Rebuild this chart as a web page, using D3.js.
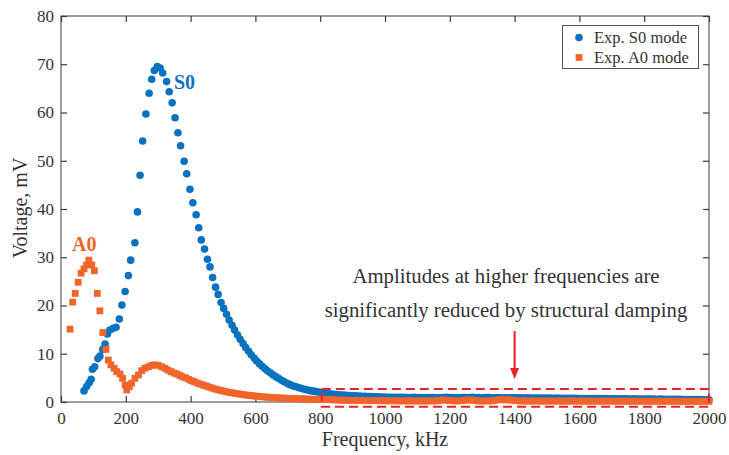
<!DOCTYPE html>
<html><head><meta charset="utf-8">
<script src="https://cdn.jsdelivr.net/npm/d3@7"></script>
<style>html,body{margin:0;padding:0;background:#fff;}svg{display:block;}</style>
</head><body>
<svg id="chart" width="729" height="455"></svg>
<script>
// ---- Data ----
const xTicks = [0,200,400,600,800,1000,1200,1400,1600,1800,2000];
const yTicks = [0,10,20,30,40,50,60,70,80];

const s0HeadFreq = [71,79,87,93,97,104,114,120,129,136,143,151,161,170,180,188,198,208,215,228,
  236,244,252,262,272,280,288,297,306,314,326,334,343,352,361,369,380,388,398,407,
  417,425,433,443,452,460,468,477,485,494,502,511,519,528,536,545,553,562,570,579,
  587,596,604,613,621,630,638,647,655,664,672,681,689,698,706,715,723,732,740,749,
  757,766,774,783,791,800,808,817,825,834];
const s0HeadVolt = [2.3,3.2,4.0,4.7,6.8,7.3,9.0,9.5,10.9,12.0,14.1,14.9,15.3,15.5,17.2,20.1,22.9,26.2,29.4,33.0,
  39.4,47.0,54.1,59.7,64.0,66.9,68.7,69.5,69.2,68.2,66.4,64.3,62.0,58.9,55.8,53.1,49.9,47.3,44.1,41.3,
  38.8,36.1,33.6,31.7,29.6,28.0,25.8,23.8,22.3,20.6,19.4,18.2,17.0,15.9,14.9,13.9,13.0,12.1,11.3,10.5,
  9.8,9.1,8.5,7.9,7.4,6.9,6.4,6.0,5.6,5.2,4.85,4.5,4.2,3.9,3.6,3.35,3.2,3.0,2.85,2.7,
  2.55,2.4,2.3,2.2,2.1,2.0,1.9,1.8,1.7,1.65];

const tailFreq = [840,850,860,870,880,890,900,910,920,930,940,950,960,970,980,990,1000,
  1010,1020,1030,1040,1050,1060,1070,1080,1090,1100,1110,1120,1130,1140,1150,1160,1170,1180,1190,1200,
  1210,1220,1230,1240,1250,1260,1270,1280,1290,1300,1310,1320,1330,1340,1350,1360,1370,1380,1390,1400,
  1410,1420,1430,1440,1450,1460,1470,1480,1490,1500,1510,1520,1530,1540,1550,1560,1570,1580,1590,1600,
  1610,1620,1630,1640,1650,1660,1670,1680,1690,1700,1710,1720,1730,1740,1750,1760,1770,1780,1790,1800,
  1810,1820,1830,1840,1850,1860,1870,1880,1890,1900,1910,1920,1930,1940,1950,1960,1970,1980,1990,2000];
const s0TailVolt = [1.6,1.55,1.5,1.45,1.4,1.35,1.3,1.27,1.24,1.2,1.17,1.14,1.12,1.1,1.07,1.05,1.03,
  1.0,0.98,1.0,0.97,0.95,0.96,0.94,0.93,0.95,0.92,0.9,0.92,0.91,0.93,0.9,0.89,0.9,0.92,0.95,0.93,
  0.9,0.92,0.94,0.91,0.9,0.93,0.96,0.92,0.9,0.88,0.9,0.91,0.89,0.87,0.9,0.88,0.86,0.88,0.87,0.85,
  0.86,0.85,0.84,0.86,0.83,0.82,0.84,0.81,0.8,0.82,0.8,0.79,0.8,0.78,0.77,0.79,0.76,0.75,0.77,0.74,
  0.73,0.74,0.72,0.71,0.72,0.7,0.69,0.7,0.68,0.67,0.68,0.66,0.65,0.66,0.64,0.63,0.64,0.62,0.61,0.62,
  0.6,0.61,0.59,0.58,0.59,0.57,0.56,0.57,0.55,0.54,0.55,0.53,0.52,0.53,0.51,0.5,0.51,0.49,0.48,0.47];

const a0HeadFreq = [28,36,44,53,62,71,79,86,95,103,112,120,129,139,146,154,164,172,182,190,
  198,203,211,218,228,239,249,259,270,280,290,300,311,321,330,340,349,358,367,376,
  385,394,403,412,421,430,439,448,457,466,475,484,493,502,511,520,529,538,547,556,
  565,574,583,592,601,610,619,628,637,646,655,664,673,682,691,700,709,718,727,736,
  745,754,763,772,781,790,799,808,817,826,835];
const a0HeadVolt = [15.1,20.7,22.5,24.8,26.7,27.6,28.4,29.4,28.4,27.2,22.5,18.9,14.4,10.9,8.7,7.7,7.0,6.3,5.8,4.9,
  3.5,2.5,3.2,3.9,4.9,5.6,6.5,7.0,7.3,7.6,7.7,7.6,7.3,7.0,6.6,6.3,6.0,5.8,5.5,5.2,
  5.0,4.7,4.4,4.2,3.9,3.7,3.5,3.3,3.1,2.9,2.7,2.55,2.4,2.25,2.1,2.0,1.9,1.8,1.7,1.6,
  1.5,1.42,1.35,1.28,1.22,1.16,1.1,1.05,1.0,0.96,0.92,0.88,0.85,0.82,0.79,0.76,0.73,0.7,0.68,0.66,
  0.64,0.62,0.6,0.58,0.56,0.55,0.53,0.52,0.5,0.49,0.48];
const a0TailVolt = [0.45,0.43,0.4,0.38,0.37,0.35,0.34,0.33,0.3,0.32,0.3,0.28,0.29,0.27,0.26,0.28,0.25,
  0.24,0.26,0.23,0.25,0.22,0.24,0.21,0.23,0.22,0.2,0.24,0.22,0.2,0.23,0.21,0.25,0.35,0.42,0.38,0.3,
  0.25,0.22,0.24,0.3,0.4,0.45,0.38,0.28,0.22,0.2,0.23,0.21,0.25,0.35,0.45,0.5,0.42,0.48,0.4,0.3,
  0.25,0.22,0.2,0.21,0.19,0.22,0.2,0.18,0.21,0.19,0.2,0.18,0.22,0.19,0.17,0.2,0.18,0.21,0.19,0.17,
  0.18,0.2,0.17,0.19,0.18,0.16,0.19,0.17,0.18,0.2,0.16,0.18,0.17,0.19,0.16,0.18,0.17,0.15,0.18,0.16,
  0.17,0.15,0.18,0.16,0.17,0.15,0.16,0.18,0.15,0.17,0.16,0.14,0.17,0.15,0.16,0.14,0.15,0.17,0.15,0.14];

const seriesNames = ["Exp. S0 mode","Exp. A0 mode"];
const annotationLines = ["Amplitudes at higher frequencies are","significantly reduced by structural damping"];
const boxRange = {f0: 805, f1: 2000, v0: -1.0, v1: 2.7};
const arrowFreq = 1400;

// ---- Build ----
const blue = "#0a72bf", orange = "#f0652b", red = "#e8202a", axisCol = "#3c3c3c", textCol = "#333";
const serif = "'Liberation Serif','Times New Roman',serif";
const svg = d3.select("#chart");
const x = d3.scaleLinear().domain([0,2000]).range([61,709]);
const y = d3.scaleLinear().domain([0,80]).range([402,16]);

const s0 = s0HeadFreq.map((f,i)=>({f, v:s0HeadVolt[i]})).concat(tailFreq.map((f,i)=>({f, v:s0TailVolt[i]})));
const a0 = a0HeadFreq.map((f,i)=>({f, v:a0HeadVolt[i]})).concat(tailFreq.map((f,i)=>({f, v:a0TailVolt[i]})));

// frame
svg.append("rect").attr("x",61).attr("y",16).attr("width",648).attr("height",386)
  .attr("fill","none").attr("stroke",axisCol).attr("stroke-width",1);

function styleAxis(g, labels){
  g.select(".domain").remove();
  g.selectAll(".tick line").attr("stroke",axisCol).attr("stroke-width",1.2);
  if(!labels) g.selectAll(".tick text").remove();
  else g.selectAll(".tick text").attr("fill",textCol).style("font-family",serif).style("font-size","17px");
}
svg.append("g").attr("transform","translate(0,402)")
  .call(d3.axisBottom(x).tickValues(xTicks).tickSize(-6).tickPadding(10).tickFormat(d3.format("d")))
  .call(g=>styleAxis(g,true));
svg.append("g").attr("transform","translate(0,16)")
  .call(d3.axisTop(x).tickValues(xTicks).tickSize(-6)).call(g=>styleAxis(g,false));
svg.append("g").attr("transform","translate(61,0)")
  .call(d3.axisLeft(y).tickValues(yTicks).tickSize(-6).tickPadding(7).tickFormat(d3.format("d")))
  .call(g=>styleAxis(g,true));
svg.append("g").attr("transform","translate(709,0)")
  .call(d3.axisRight(y).tickValues(yTicks).tickSize(-6)).call(g=>styleAxis(g,false));

// S0 circles
svg.append("g").selectAll("circle").data(s0).join("circle")
  .attr("cx",d=>x(d.f)).attr("cy",d=>y(d.v)).attr("r",3.8).attr("fill",blue);
// A0 squares
const sq = 6.8;
svg.append("g").selectAll("rect").data(a0).join("rect")
  .attr("x",d=>x(d.f)-sq/2).attr("y",d=>y(d.v)-sq/2).attr("width",sq).attr("height",sq).attr("fill",orange);

// dashed box
svg.append("rect").attr("x",x(boxRange.f0)).attr("y",y(boxRange.v1))
  .attr("width",x(boxRange.f1)-x(boxRange.f0)).attr("height",y(boxRange.v0)-y(boxRange.v1))
  .attr("fill","none").attr("stroke",red).attr("stroke-width",2).attr("stroke-dasharray","9,5");

// arrow
const ax = x(arrowFreq);
svg.append("line").attr("x1",ax).attr("x2",ax).attr("y1",331).attr("y2",370)
  .attr("stroke",red).attr("stroke-width",2);
svg.append("path").attr("d",`M${ax-4.5},368 L${ax+4.5},368 L${ax},379 Z`).attr("fill",red);

// annotation
svg.append("g").selectAll("text").data(annotationLines).join("text")
  .attr("x",506).attr("y",(d,i)=>283+i*34).attr("text-anchor","middle")
  .attr("fill",textCol).style("font-family",serif).style("font-size","20.8px").text(d=>d);

// series labels
svg.append("text").attr("x",174).attr("y",89).attr("fill",blue)
  .style("font-family",serif).style("font-size","20px").style("font-weight","bold").text("S0");
svg.append("text").attr("x",72).attr("y",251).attr("fill",orange)
  .style("font-family",serif).style("font-size","20px").style("font-weight","bold").text("A0");

// axis titles
svg.append("text").attr("x",385).attr("y",446).attr("text-anchor","middle").attr("fill",textCol)
  .style("font-family",serif).style("font-size","20px").text("Frequency, kHz");
svg.append("text").attr("transform","translate(27,208) rotate(-90)").attr("text-anchor","middle").attr("fill",textCol)
  .style("font-family",serif).style("font-size","20px").text("Voltage, mV");

// legend
const lg = svg.append("g");
lg.append("rect").attr("x",562.5).attr("y",25.5).attr("width",136).attr("height",43)
  .attr("fill","#fff").attr("stroke","#555").attr("stroke-width",1);
lg.append("circle").attr("cx",579).attr("cy",37.5).attr("r",3.8).attr("fill",blue);
lg.append("rect").attr("x",579-3.4).attr("y",57.5-3.4).attr("width",6.8).attr("height",6.8).attr("fill",orange);
lg.selectAll("text.lt").data(seriesNames).join("text").attr("class","lt")
  .attr("x",594).attr("y",(d,i)=>43+i*20).attr("fill",textCol)
  .style("font-family",serif).style("font-size","16.5px").text(d=>d);
</script>
</body></html>
